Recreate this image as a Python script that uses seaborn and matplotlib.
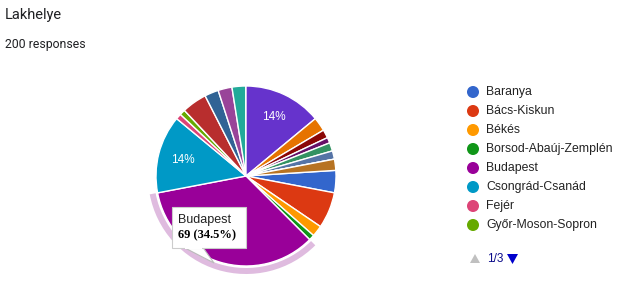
import matplotlib
matplotlib.use("Agg")
import matplotlib.pyplot as plt
import matplotlib.patches as mpatches
import seaborn as sns

# ---- data ----
categories = ["Baranya", "Bács-Kiskun", "Békés", "Borsod-Abaúj-Zemplén", "Budapest",
              "Csongrád-Csanád", "Fejér", "Győr-Moson-Sopron", "Hajdú-Bihar", "Heves",
              "Jász-Nagykun-Szolnok", "Komárom-Esztergom", "Nógrád", "Pest", "Somogy",
              "Szabolcs-Szatmár-Bereg", "Tolna", "Vas", "Veszprém", "Zala", "Külföld"]
counts = [8, 13, 4, 2, 69, 28, 2, 2, 9, 5, 5, 5, 0, 28, 5, 3, 2, 3, 3, 0, 4]
palette_hex = ["#3366cc", "#dc3912", "#ff9900", "#109618", "#990099", "#0099c6",
               "#dd4477", "#66aa00", "#b82e2e", "#316395", "#994499", "#22aa99",
               "#aaaa11", "#6633cc", "#e67300", "#8b0707", "#651067", "#329262",
               "#5574a6", "#3b3eac", "#b77322"]
title = "Lakhelye"
subtitle = "200 responses"
legend_page = "1/3"
highlight = "Budapest"

sns.set_theme(style="white")
plt.rcParams["font.family"] = ["Liberation Sans", "DejaVu Sans"]

W, H = 625, 302
fig = plt.figure(figsize=(W / 100, H / 100), dpi=100)
ax = fig.add_axes([0, 0, 1, 1])

colors = sns.color_palette(palette_hex, n_colors=len(palette_hex))
total = sum(counts)
tail = sum(counts[categories.index("Pest"):])
start = 90 - 360 * tail / total
idx = categories.index(highlight)

cx, cy, R = 246, H - 176, 90
wedges, texts, autotexts = ax.pie(
    counts, colors=colors, startangle=start, counterclock=False,
    center=(cx, cy), radius=R,
    wedgeprops=dict(edgecolor="white", linewidth=1.0),
    autopct=lambda p: f"{p:.0f}%" if p >= 10 else "",
    pctdistance=0.72, textprops=dict(color="white", fontsize=8.5),
)
# the highlighted slice's label is hidden beneath the tooltip
autotexts[idx].set_text("")
ax.set_xlim(0, W)
ax.set_ylim(0, H)
ax.set_aspect("equal")
ax.axis("off")

# highlight ring on the selected slice
hw = wedges[idx]
ring = mpatches.Wedge((cx, cy), R + 8, hw.theta1, hw.theta2, width=6,
                      facecolor="#dfbbdf", edgecolor="none", zorder=0.5)
ax.add_patch(ring)

# tooltip
tx0, tx1, ty0, ty1 = 172, 246, 207, 248
tail_poly = mpatches.Polygon([(184, H - ty1 + 0.5), (214, H - 263), (203, H - ty1 + 0.5)],
                             closed=True, facecolor="white", edgecolor="#bbbbbb",
                             linewidth=0.8, zorder=5)
ax.add_patch(tail_poly)
box = mpatches.Rectangle((tx0, H - ty1), tx1 - tx0, ty1 - ty0, facecolor="white",
                         edgecolor="#cccccc", linewidth=0.8, zorder=6)
ax.add_patch(box)
ax.add_patch(mpatches.Rectangle((185, H - ty1 - 0.5), 17, 2, facecolor="white",
                                edgecolor="none", zorder=7))
ax.text(178, H - 223, highlight, fontsize=9, color="#222222", zorder=8,
        va="baseline", ha="left")
ax.text(178, H - 238, f"{counts[idx]} ({100 * counts[idx] / total:.1f}%)", fontsize=9,
        fontweight="bold", family=["Liberation Serif", "DejaVu Serif"], color="#000000",
        zorder=8, va="baseline", ha="left")

# titles
ax.text(5, H - 19, title, fontsize=10.5, color="#202124", va="baseline", ha="left",
        family=["Roboto", "DejaVu Sans"])
ax.text(5, H - 48, subtitle, fontsize=8.8, color="#202124", va="baseline", ha="left",
        family=["Roboto", "DejaVu Sans"])

# legend (first page)
for i in range(8):
    y = H - (92 + 19 * i)
    ax.scatter([473], [y], s=75, color=colors[i], edgecolors="none", zorder=5)
    ax.text(486, y, categories[i], fontsize=8.8, color="#222222", va="center", ha="left")

# pager
ax.add_patch(mpatches.Polygon([(470, H - 263), (480, H - 263), (475, H - 254)],
                              closed=True, facecolor="#c0c0c0", edgecolor="none"))
ax.text(487, H - 258.5, legend_page, fontsize=8.5, color="#0b0b8a", va="center", ha="left")
ax.add_patch(mpatches.Polygon([(507, H - 254), (518, H - 254), (512.5, H - 264)],
                              closed=True, facecolor="#0000cc", edgecolor="none"))

fig.savefig("out.png", dpi=100, facecolor="white")
